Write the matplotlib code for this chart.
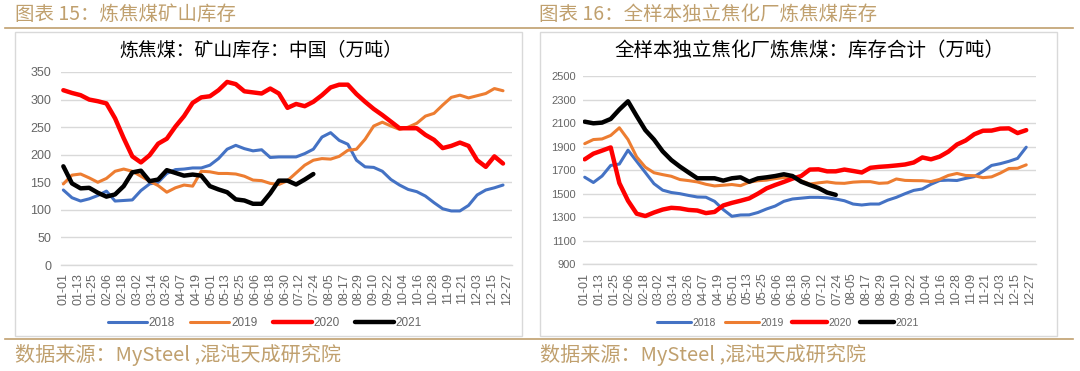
import numpy as np
import matplotlib
matplotlib.use("Agg")
import matplotlib.pyplot as plt
from matplotlib.patches import Rectangle
from matplotlib.lines import Line2D

plt.rcParams['font.family'] = ['Liberation Sans', 'Noto Sans CJK SC', 'DejaVu Sans']

# ---------------- data ----------------
tick_labels = ["01-01", "01-13", "01-25", "02-06", "02-18", "03-02", "03-14", "03-26",
               "04-07", "04-19", "05-01", "05-13", "05-25", "06-06", "06-18", "06-30",
               "07-12", "07-24", "08-05", "08-17", "08-29", "09-10", "09-22", "10-04",
               "10-16", "10-28", "11-09", "11-21", "12-03", "12-15", "12-27"]
series_names = ["2018", "2019", "2020", "2021"]

# Chart 15: coking coal mine inventory, China (10k t), weekly
mine_2018 = [136, 122, 116, 120, 126, 134, 116, 117, 118, 135, 147, 150, 166, 173, 174, 176,
             176, 181, 193, 210, 217, 211, 207, 209, 195, 196, 196, 196, 202, 210, 232, 240,
             226, 219, 190, 178, 177, 170, 155, 145, 137, 133, 125, 113, 102, 98, 98, 108,
             127, 136, 140, 145]
mine_2019 = [147, 163, 165, 158, 150, 157, 170, 174, 170, 161, 152, 144, 132, 140, 145, 143,
             170, 169, 166, 166, 165, 161, 154, 153, 148, 146, 153, 167, 181, 190, 193, 192,
             197, 208, 210, 228, 252, 259, 252, 246, 250, 257, 270, 275, 290, 304, 308, 303,
             307, 311, 320, 316]
mine_2020 = [317, 312, 308, 300, 297, 293, 266, 230, 197, 186, 199, 220, 229, 251, 270, 294,
             304, 306, 317, 332, 328, 315, 313, 311, 320, 311, 285, 292, 288, 296, 308, 322,
             327, 327, 310, 296, 283, 272, 260, 248, 248, 248, 236, 227, 212, 216, 222, 216,
             190, 178, 197, 184]
mine_2021 = [179, 148, 139, 140, 131, 124, 128, 143, 168, 171, 152, 155, 172, 167, 162, 164,
             162, 143, 137, 132, 119, 117, 111, 111, 130, 153, 153, 146, 155, 165]

# Chart 16: independent coking plants' coking coal inventory (10k t), weekly
plant_2018 = [1640, 1595, 1650, 1740, 1752, 1870, 1775, 1680, 1585, 1530, 1510, 1500, 1485,
              1472, 1470, 1435, 1365, 1308, 1319, 1320, 1340, 1370, 1395, 1435, 1455, 1462,
              1469, 1469, 1465, 1455, 1440, 1412, 1404, 1412, 1412, 1445, 1469, 1500, 1528,
              1540, 1580, 1612, 1615, 1612, 1630, 1645, 1690, 1740, 1755, 1775, 1800, 1895]
plant_2019 = [1925, 1960, 1965, 1995, 2060, 1960, 1812, 1725, 1678, 1662, 1648, 1620, 1611,
              1600, 1580, 1566, 1572, 1578, 1568, 1598, 1610, 1615, 1628, 1637, 1639, 1610,
              1582, 1592, 1600, 1590, 1588, 1598, 1602, 1602, 1588, 1592, 1625, 1613, 1611,
              1610, 1603, 1622, 1655, 1672, 1655, 1653, 1636, 1643, 1675, 1714, 1716, 1745]
plant_2020 = [1792, 1840, 1866, 1893, 1590, 1440, 1330, 1310, 1340, 1365, 1380, 1375, 1362,
              1357, 1335, 1345, 1400, 1422, 1440, 1460, 1500, 1545, 1574, 1600, 1628, 1650,
              1705, 1707, 1690, 1690, 1705, 1693, 1680, 1720, 1728, 1733, 1740, 1748, 1765,
              1808, 1792, 1815, 1857, 1918, 1952, 2005, 2035, 2036, 2053, 2055, 2015, 2040]
plant_2021 = [2112, 2098, 2104, 2135, 2215, 2285, 2160, 2040, 1960, 1860, 1786, 1730, 1680,
              1631, 1631, 1631, 1611, 1631, 1639, 1602, 1630, 1639, 1650, 1665, 1650, 1602,
              1574, 1548, 1510, 1490]

# ---------------- style ----------------
W, H = 1080, 371
colors = ["#4472C4", "#ED7D31", "#FF0000", "#000000"]
widths = [2.2, 2.2, 3.2, 3.2]
tan = "#C0A06E"
grid_c = "#D9D9D9"
tick_c = "#666666"
cjk = ['Noto Sans CJK SC', 'DejaVu Sans']


def fx(x):
    return x / W


def fy(y):
    return 1 - y / H


fig = plt.figure(figsize=(W / 100, H / 100), dpi=100)

# header / footer rules
fig.add_artist(Line2D([fx(5), fx(1073)], [fy(28), fy(28)], color=tan, lw=1.2))
fig.add_artist(Line2D([fx(5), fx(1073)], [fy(339), fy(339)], color=tan, lw=1.2))

# panel frames
for x0, x1 in [(15, 522), (540, 1057)]:
    fig.add_artist(Rectangle((fx(x0), fy(336)), fx(x1) - fx(x0), fy(32) - fy(336),
                             transform=fig.transFigure, facecolor="white",
                             edgecolor=grid_c, lw=1.0, zorder=0))

fig.text(fx(15), fy(14), "图表 15：炼焦煤矿山库存", color=tan, fontsize=14,
         family=cjk, va="center", ha="left")
fig.text(fx(539), fy(14), "图表 16：全样本独立焦化厂炼焦煤库存", color=tan, fontsize=14,
         family=cjk, va="center", ha="left")
fig.text(fx(15), fy(355), "数据来源：MySteel ,混沌天成研究院", color=tan, fontsize=14.5,
         family=cjk, va="center", ha="left")
fig.text(fx(540), fy(355), "数据来源：MySteel ,混沌天成研究院", color=tan, fontsize=14.5,
         family=cjk, va="center", ha="left")

fig.text(fx(261), fy(50), "炼焦煤：矿山库存：中国（万吨）", color="black", fontsize=13.6,
         family=cjk, va="center", ha="center", weight="medium")
fig.text(fx(809), fy(50), "全样本独立焦化厂炼焦煤：库存合计（万吨）", color="black",
         fontsize=14, family=cjk, va="center", ha="center", weight="medium")

tick_pos = np.arange(len(tick_labels)) * 12


def draw(rect, data, ylim, yticks, ypad, ylab_fs, legend_xy, legend_fs, colsp):
    ax = fig.add_axes(rect)
    ax.set_facecolor("none")
    handles = []
    for vals, c, lw, name in zip(data, colors, widths, series_names):
        x = np.arange(len(vals)) * 7
        h, = ax.plot(x, vals, color=c, lw=lw, solid_joinstyle="round",
                     solid_capstyle="round", label=name, zorder=3)
        handles.append(h)
    ax.set_ylim(*ylim)
    ax.set_yticks(yticks)
    ax.set_xticks(tick_pos)
    ax.set_xticklabels(tick_labels, rotation=90, fontsize=9, color=tick_c)
    ax.tick_params(axis="y", labelsize=ylab_fs, labelcolor=tick_c, length=0, pad=ypad)
    ax.tick_params(axis="x", length=0, pad=6)
    ax.grid(axis="y", color=grid_c, lw=1.0)
    ax.set_axisbelow(True)
    for s in ["left", "right", "top"]:
        ax.spines[s].set_visible(False)
    ax.spines["bottom"].set_color(grid_c)
    ax.spines["bottom"].set_linewidth(1.0)
    fig.legend(handles=handles, loc="center", bbox_to_anchor=legend_xy, ncol=4,
               frameon=False, fontsize=legend_fs, handlelength=3.3, handletextpad=0.15,
               columnspacing=colsp, labelcolor=tick_c)
    return ax


# left chart axes: x 61..512 px, y 72..265 px
ax1 = draw([fx(61), fy(265), fx(512) - fx(61), fy(72) - fy(265)],
           [mine_2018, mine_2019, mine_2020, mine_2021],
           (0, 350), np.arange(0, 351, 50), 7, 9,
           (fx(265), fy(323)), 8.5, 1.3)
ax1.set_xlim(-1.9, 364.3)

# right chart axes: x 583..1036 px, y 76..264 px
ax2 = draw([fx(583), fy(264.3), fx(1036) - fx(583), fy(76) - fy(264.3)],
           [plant_2018, plant_2019, plant_2020, plant_2021],
           (900, 2500), np.arange(900, 2501, 200), 5, 8,
           (fx(788), fy(323)), 7.5, 0.8)
ax2.set_xlim(-1.4, 364.9)

fig.savefig("out.png", dpi=100)
